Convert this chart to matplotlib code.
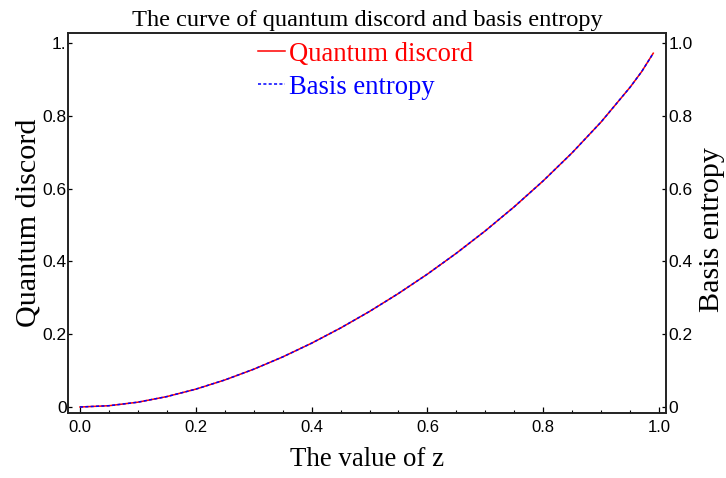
import numpy as np
import matplotlib
matplotlib.use("Agg")
import matplotlib.pyplot as plt

# values
z = [0.0, 0.05, 0.1, 0.15, 0.2, 0.25, 0.3, 0.35, 0.4, 0.45, 0.5,
     0.55, 0.6, 0.65, 0.7, 0.75, 0.8, 0.85, 0.9, 0.95, 0.97, 0.99]
discord = [0.0, 0.0035, 0.0132, 0.0286, 0.049, 0.0742, 0.1038, 0.1375,
           0.1753, 0.217, 0.2625, 0.3119, 0.3651, 0.4225, 0.484, 0.5502,
           0.6214, 0.6986, 0.7832, 0.8785, 0.9214, 0.972]
entropy = [0.0, 0.0035, 0.0132, 0.0286, 0.049, 0.0742, 0.1038, 0.1375,
           0.1753, 0.217, 0.2625, 0.3119, 0.3651, 0.4225, 0.484, 0.5502,
           0.6214, 0.6986, 0.7832, 0.8785, 0.9214, 0.972]

xticks = [0.0, 0.2, 0.4, 0.6, 0.8, 1.0]
xtick_labels = ["0.0", "0.2", "0.4", "0.6", "0.8", "1.0"]
yticks = [0.0, 0.2, 0.4, 0.6, 0.8, 1.0]
left_labels = ["0", "0.2", "0.4", "0.6", "0.8", "1."]
right_labels = ["0", "0.2", "0.4", "0.6", "0.8", "1.0"]

serif = "Liberation Serif"
sans = "Liberation Sans"

fig = plt.figure(figsize=(7.26, 4.78), dpi=100)
ax = fig.add_axes([68 / 726, 1 - 413 / 478, 598 / 726, 380 / 478])
ax2 = ax.twinx()

l1, = ax.plot(z, discord, color="red", lw=1.1, label="Quantum discord")
l2, = ax2.plot(z, entropy, color="blue", lw=1.1, dashes=(2, 1.5),
               label="Basis entropy")

xlim = (-0.0207, 1.012)
ylim = (-0.0165, 1.0275)
ax.set_xlim(*xlim)
ax.set_ylim(*ylim)
ax2.set_ylim(*ylim)

ax.set_xticks(xticks)
ax.set_xticklabels(xtick_labels, fontfamily=sans, fontsize=12)
ax.set_xticks(np.arange(0.05, 1.0, 0.05), minor=True)
ax.set_yticks(yticks)
ax.set_yticklabels(left_labels, fontfamily=sans, fontsize=12.5)
ax2.set_yticks(yticks)
ax2.set_yticklabels(right_labels, fontfamily=sans, fontsize=12.5)

ax.tick_params(axis="x", which="major", direction="in", length=4, width=0.9,
               pad=5, top=False)
ax.tick_params(axis="x", which="minor", direction="in", length=2.2, width=0.8,
               top=False)
ax.tick_params(axis="y", which="major", direction="in", length=3, width=0.9,
               pad=1)
ax2.tick_params(axis="y", which="major", direction="in", length=3, width=0.9,
                pad=2)

for a in (ax, ax2):
    for s in a.spines.values():
        s.set_linewidth(1.2)
        s.set_color("#222222")

ax.set_title("The curve of quantum discord and basis entropy",
             fontfamily=serif, fontsize=17.6, pad=5)
ax.set_xlabel("The value of z", fontfamily=serif, fontsize=19.4, labelpad=9)
ax.set_ylabel("Quantum discord", fontfamily=serif, fontsize=21.7, labelpad=1)
ax2.set_ylabel("Basis entropy", fontfamily=serif, fontsize=21.7)
ax2.yaxis.set_label_coords(1.055, 0.482)

leg = ax.legend([l1, l2], ["Quantum discord", "Basis entropy"],
                loc="upper left", bbox_to_anchor=(0.3, 1.005), frameon=False,
                prop={"family": serif, "size": 19.2}, handlelength=1.0,
                handletextpad=0.15, labelspacing=0.3, borderaxespad=0)
for t, c in zip(leg.get_texts(), ["red", "blue"]):
    t.set_color(c)

fig.savefig("out.png", dpi=100)
